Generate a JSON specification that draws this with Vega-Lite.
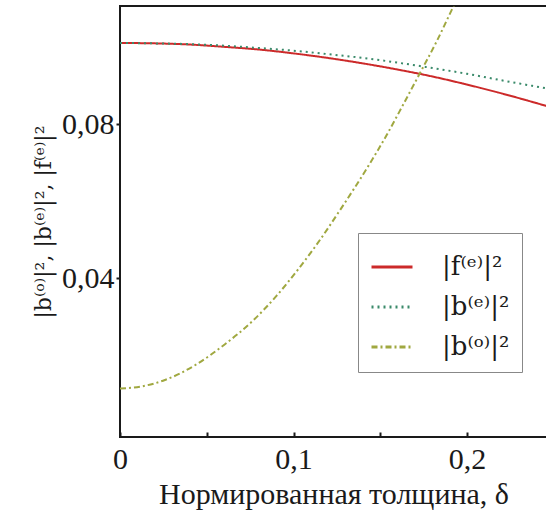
{
  "$schema": "https://vega.github.io/schema/vega-lite/v6.json",
  "autosize": "none",
  "width": 427,
  "height": 431,
  "padding": {"left": 120, "top": 6, "right": 0, "bottom": 88},
  "background": "white",
  "config": {
    "view": {"stroke": "#1a1a1a", "strokeWidth": 2},
    "font": "Liberation Serif"
  },
  "data": {
    "values": [
      {"d": 0, "v": 0.1011, "s": "|f⁽ᵉ⁾|²"},
      {"d": 0.02, "v": 0.1010, "s": "|f⁽ᵉ⁾|²"},
      {"d": 0.04, "v": 0.1007, "s": "|f⁽ᵉ⁾|²"},
      {"d": 0.06, "v": 0.1001, "s": "|f⁽ᵉ⁾|²"},
      {"d": 0.08, "v": 0.0994, "s": "|f⁽ᵉ⁾|²"},
      {"d": 0.10, "v": 0.0984, "s": "|f⁽ᵉ⁾|²"},
      {"d": 0.12, "v": 0.0972, "s": "|f⁽ᵉ⁾|²"},
      {"d": 0.14, "v": 0.0958, "s": "|f⁽ᵉ⁾|²"},
      {"d": 0.16, "v": 0.0942, "s": "|f⁽ᵉ⁾|²"},
      {"d": 0.18, "v": 0.0924, "s": "|f⁽ᵉ⁾|²"},
      {"d": 0.20, "v": 0.0903, "s": "|f⁽ᵉ⁾|²"},
      {"d": 0.22, "v": 0.0880, "s": "|f⁽ᵉ⁾|²"},
      {"d": 0.2461, "v": 0.0847, "s": "|f⁽ᵉ⁾|²"},
      {"d": 0, "v": 0.1011, "s": "|b⁽ᵉ⁾|²"},
      {"d": 0.02, "v": 0.1010, "s": "|b⁽ᵉ⁾|²"},
      {"d": 0.04, "v": 0.1008, "s": "|b⁽ᵉ⁾|²"},
      {"d": 0.06, "v": 0.1004, "s": "|b⁽ᵉ⁾|²"},
      {"d": 0.08, "v": 0.0998, "s": "|b⁽ᵉ⁾|²"},
      {"d": 0.10, "v": 0.0991, "s": "|b⁽ᵉ⁾|²"},
      {"d": 0.12, "v": 0.0982, "s": "|b⁽ᵉ⁾|²"},
      {"d": 0.14, "v": 0.0972, "s": "|b⁽ᵉ⁾|²"},
      {"d": 0.16, "v": 0.0960, "s": "|b⁽ᵉ⁾|²"},
      {"d": 0.18, "v": 0.0946, "s": "|b⁽ᵉ⁾|²"},
      {"d": 0.20, "v": 0.0931, "s": "|b⁽ᵉ⁾|²"},
      {"d": 0.22, "v": 0.0914, "s": "|b⁽ᵉ⁾|²"},
      {"d": 0.2461, "v": 0.0893, "s": "|b⁽ᵉ⁾|²"},
      {"d": 0, "v": 0.0114, "s": "|b⁽ᵒ⁾|²"},
      {"d": 0.012, "v": 0.0119, "s": "|b⁽ᵒ⁾|²"},
      {"d": 0.0259, "v": 0.0136, "s": "|b⁽ᵒ⁾|²"},
      {"d": 0.0442, "v": 0.0177, "s": "|b⁽ᵒ⁾|²"},
      {"d": 0.0605, "v": 0.0229, "s": "|b⁽ᵒ⁾|²"},
      {"d": 0.0759, "v": 0.0287, "s": "|b⁽ᵒ⁾|²"},
      {"d": 0.0903, "v": 0.0355, "s": "|b⁽ᵒ⁾|²"},
      {"d": 0.1028, "v": 0.0424, "s": "|b⁽ᵒ⁾|²"},
      {"d": 0.1153, "v": 0.0500, "s": "|b⁽ᵒ⁾|²"},
      {"d": 0.1268, "v": 0.0577, "s": "|b⁽ᵒ⁾|²"},
      {"d": 0.1429, "v": 0.0690, "s": "|b⁽ᵒ⁾|²"},
      {"d": 0.1537, "v": 0.0772, "s": "|b⁽ᵒ⁾|²"},
      {"d": 0.1631, "v": 0.0850, "s": "|b⁽ᵒ⁾|²"},
      {"d": 0.1729, "v": 0.0933, "s": "|b⁽ᵒ⁾|²"},
      {"d": 0.1825, "v": 0.1015, "s": "|b⁽ᵒ⁾|²"},
      {"d": 0.1912, "v": 0.1097, "s": "|b⁽ᵒ⁾|²"},
      {"d": 0.2000, "v": 0.1180, "s": "|b⁽ᵒ⁾|²"}
    ]
  },
  "mark": {"type": "line", "clip": true, "interpolate": "monotone"},
  "encoding": {
    "x": {
      "field": "d", "type": "quantitative",
      "scale": {"domain": [0, 0.2461], "nice": false, "zero": false},
      "axis": {
        "values": [0, 0.05, 0.1, 0.15, 0.2],
        "labelExpr": "datum.value == 0 ? '0' : (abs(datum.value - 0.1) < 0.001 ? '0,1' : (abs(datum.value - 0.2) < 0.001 ? '0,2' : ''))",
        "domain": false, "grid": false,
        "tickSize": -5, "tickColor": "#1a1a1a", "tickWidth": 2,
        "labelFont": "Liberation Serif", "labelFontSize": 30, "labelColor": "#1a1a1a", "labelPadding": 12, "labelFlush": false,
        "title": "Нормированная толщина, δ", "titleFont": "Liberation Serif", "titleFontSize": 30, "titleFontWeight": "normal", "titleColor": "#1a1a1a", "titlePadding": 5
      }
    },
    "y": {
      "field": "v", "type": "quantitative",
      "scale": {"domain": [-0.0012, 0.1107], "nice": false, "zero": false},
      "axis": {
        "values": [0.04, 0.08],
        "labelExpr": "replace(format(datum.value, '.2f'), '.', ',')",
        "domain": false, "grid": false,
        "tickSize": 4, "tickColor": "#1a1a1a", "tickWidth": 2,
        "labelFont": "Liberation Serif", "labelFontSize": 30, "labelColor": "#1a1a1a", "labelPadding": 2,
        "title": "|b⁽ᵒ⁾|², |b⁽ᵉ⁾|², |f⁽ᵉ⁾|²", "titleFont": "DejaVu Serif", "titleFontSize": 22, "titleFontWeight": "normal", "titleColor": "#1a1a1a", "titlePadding": 6
      }
    },
    "color": {
      "field": "s", "type": "nominal",
      "scale": {"domain": ["|f⁽ᵉ⁾|²", "|b⁽ᵉ⁾|²", "|b⁽ᵒ⁾|²"], "range": ["#cc2a2a", "#3a8a6a", "#a0a840"]},
      "legend": {
        "title": null, "orient": "none", "legendX": 238, "legendY": 227,
        "symbolType": "stroke", "symbolSize": 1681, "symbolStrokeWidth": 3,
        "labelFont": "DejaVu Serif", "labelFontSize": 26, "labelColor": "#1a1a1a", "labelOffset": 28,
        "rowPadding": 5, "padding": 12,
        "strokeColor": "#888888", "fillColor": "white", "cornerRadius": 0
      }
    },
    "strokeDash": {
      "field": "s", "type": "nominal",
      "scale": {"domain": ["|f⁽ᵉ⁾|²", "|b⁽ᵉ⁾|²", "|b⁽ᵒ⁾|²"], "range": [[1, 0], [2, 4], [6, 3, 2, 3]]},
      "legend": null
    },
    "strokeWidth": {"value": 2}
  }
}
